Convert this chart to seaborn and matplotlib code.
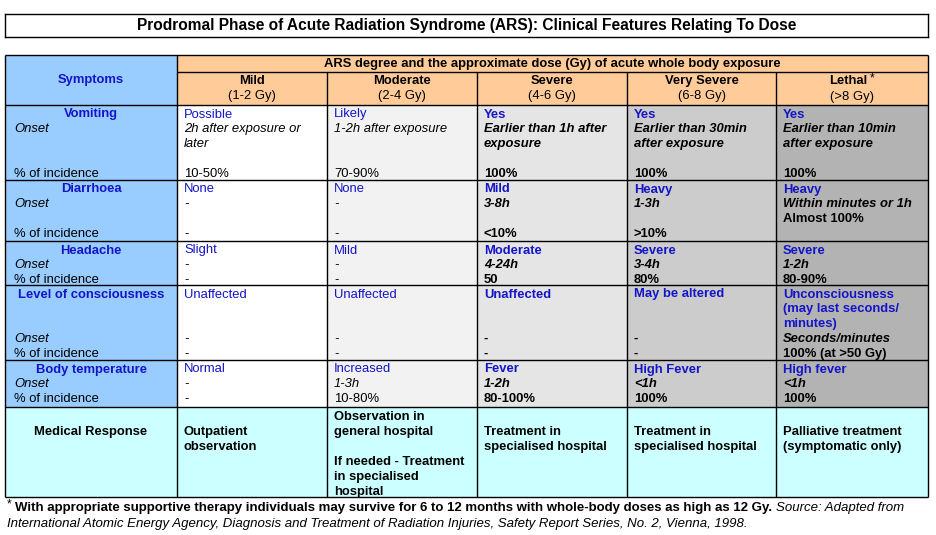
import numpy as np
import matplotlib
matplotlib.use("Agg")
import matplotlib.pyplot as plt
from matplotlib.colors import ListedColormap
from matplotlib.transforms import IdentityTransform
import seaborn as sns

# ---- table content ----
title = "Prodromal Phase of Acute Radiation Syndrome (ARS): Clinical Features Relating To Dose"
span_header = "ARS degree and the approximate dose (Gy) of acute whole body exposure"
degrees = ["Mild", "Moderate", "Severe", "Very Severe", "Lethal"]
doses = ["(1-2 Gy)", "(2-4 Gy)", "(4-6 Gy)", "(6-8 Gy)", "(>8 Gy)"]
symptoms = ["Vomiting", "Diarrhoea", "Headache", "Level of consciousness", "Body temperature"]

vomiting = [
    ["Possible", "2h after exposure or", "later", "", "10-50%"],
    ["Likely", "1-2h after exposure", "", "", "70-90%"],
    ["Yes", "Earlier than 1h after", "exposure", "", "100%"],
    ["Yes", "Earlier than 30min", "after exposure", "", "100%"],
    ["Yes", "Earlier than 10min", "after exposure", "", "100%"],
]
diarrhoea = [
    ["None", "-", "", "-"],
    ["None", "-", "", "-"],
    ["Mild", "3-8h", "", "<10%"],
    ["Heavy", "1-3h", "", ">10%"],
    ["Heavy", "Within minutes or 1h", "Almost 100%", ""],
]
headache = [
    ["Slight", "-", "-"],
    ["Mild", "-", "-"],
    ["Moderate", "4-24h", "50"],
    ["Severe", "3-4h", "80%"],
    ["Severe", "1-2h", "80-90%"],
]
consciousness = [
    ["Unaffected", "", "", "-", "-"],
    ["Unaffected", "", "", "-", "-"],
    ["Unaffected", "", "", "-", "-"],
    ["May be altered", "", "", "-", "-"],
    ["Unconsciousness", "(may last seconds/", "minutes)", "Seconds/minutes", "100% (at >50 Gy)"],
]
body_temperature = [
    ["Normal", "-", "-"],
    ["Increased", "1-3h", "10-80%"],
    ["Fever", "1-2h", "80-100%"],
    ["High Fever", "<1h", "100%"],
    ["High fever", "<1h", "100%"],
]
medical_response = [
    ["", "Outpatient", "observation"],
    ["Observation in", "general hospital", "", "If needed - Treatment", "in specialised", "hospital"],
    ["", "Treatment in", "specialised hospital"],
    ["", "Treatment in", "specialised hospital"],
    ["", "Palliative treatment", "(symptomatic only)"],
]
footnote = ("With appropriate supportive therapy individuals may survive for 6 to 12 months "
            "with whole-body doses as high as 12 Gy.")
source_1 = "Source: Adapted from"
source_2 = ("International Atomic Energy Agency, Diagnosis and Treatment of Radiation Injuries, "
            "Safety Report Series, No. 2, Vienna, 1998.")

body_rows = [vomiting, diarrhoea, headache, consciousness, body_temperature]
# what each text line of a row holds, and where "Onset" / "% of incidence" sit
line_kinds = [
    ["label", "onset", "onset", "onset", "inc"],
    ["label", "onset", "inc", "inc"],
    ["label", "onset", "inc"],
    ["label", "label", "label", "onset", "inc"],
    ["label", "onset", "inc"],
]
label_lines = [(1, 4), (1, 3), (1, 2), (3, 4), (1, 2)]

# ---- style / layout ----
sns.set_theme(style="white")
plt.rcParams["font.family"] = ["Liberation Sans", "DejaVu Sans"]

W, H = 936, 535
fig = plt.figure(figsize=(W / 100, H / 100), dpi=100)
fig.patch.set_facecolor("white")
renderer = fig.canvas.get_renderer()

BLUE = "#1414c8"
fills = ["#ffffff", "#f2f2f2", "#e5e5e5", "#cccccc", "#b3b3b3", "#99ccff", "#ffcc99", "#ccffff"]
X0, Y0 = 5, 55
col_w = [172, 150, 150, 150, 149, 152]
row_h = [17, 33, 75, 61, 44, 75, 47, 90]
col_x = np.concatenate([[0], np.cumsum(col_w)])
row_y = np.concatenate([[0], np.cumsum(row_h)])
PITCH = 14.9
FS = 9.35


def put(x, y, s, ha="left", size=FS, **kw):
    # x, y in image pixels, y measured from the top, y is the baseline
    return fig.text(x, H - y, s, ha=ha, va="baseline", fontsize=size,
                    color=kw.pop("color", "black"), transform=IdentityTransform(), **kw)


def put_runs(x, y, runs, ha="left"):
    # runs: (text, gap before, raise, style)
    texts = [put(0, y, s, **kw) for s, gap, dy, kw in runs]
    widths = [t.get_window_extent(renderer).width for t in texts]
    total = sum(widths) + sum(r[1] for r in runs)
    cur = x - total / 2 if ha == "center" else x
    for t, w, (s, gap, dy, kw) in zip(texts, widths, runs):
        cur += gap
        t.set_position((cur, H - y + dy))
        cur += w


# ---- cell backgrounds via heatmap ----
shade = np.array([[5, 6, 6, 6, 6, 6]] * 2 + [[5, 0, 1, 2, 3, 4]] * 5 + [[7] * 6])
grid = np.repeat(np.repeat(shade, row_h, axis=0), col_w, axis=1)
ax = fig.add_axes([X0 / W, 1 - (Y0 + row_y[-1]) / H, col_x[-1] / W, row_y[-1] / H])
sns.heatmap(grid, ax=ax, cmap=ListedColormap(fills), vmin=-0.5, vmax=len(fills) - 0.5,
            cbar=False, xticklabels=False, yticklabels=False)

lk = dict(colors="black", lw=1, clip_on=False)
ax.hlines(row_y[[0, 2, 3, 4, 5, 6, 7, 8]], 0, col_x[-1], **lk)
ax.hlines(row_y[1], col_x[1], col_x[-1], **lk)
ax.vlines(col_x[[0, 1, 6]], 0, row_y[-1], **lk)
ax.vlines(col_x[2:6], row_y[1], row_y[-1], **lk)

# ---- title box ----
tax = fig.add_axes([5 / W, 1 - 37 / H, 923 / W, 23 / H])
tax.set_xticks([])
tax.set_yticks([])
for sp in tax.spines.values():
    sp.set_color("black")
    sp.set_linewidth(1)
put(467, 30, title, ha="center", size=11.2, weight="bold")

# ---- header ----
put(X0 + (col_x[1] + col_x[-1]) / 2, Y0 + 12.5, span_header, ha="center", weight="bold")
put(X0 + col_x[1] / 2, Y0 + 28.5, "Symptoms", ha="center", weight="bold", color=BLUE)
for i, (deg, dose) in enumerate(zip(degrees, doses)):
    cx = X0 + (col_x[i + 1] + col_x[i + 2]) / 2
    top = Y0 + row_y[1]
    if deg == "Lethal":
        put_runs(cx, top + 12.5, [(deg, 0, 0, dict(weight="bold")), ("*", 3, 3, dict(size=8.5))],
                 ha="center")
        put(cx, top + 28, dose, ha="center")
    else:
        put(cx, top + 12, deg, ha="center", weight="bold")
        put(cx, top + 26.5, dose, ha="center")

# ---- body rows ----
for r, (name, cells) in enumerate(zip(symptoms, body_rows)):
    base = Y0 + row_y[r + 2] + 12.5
    on_i, inc_i = label_lines[r]
    put(X0 + col_x[1] / 2, base, name, ha="center", weight="bold", color=BLUE)
    put(X0 + 9, base + PITCH * on_i, "Onset", style="italic")
    put(X0 + 9, base + PITCH * inc_i, "% of incidence")
    for c, lines in enumerate(cells):
        strong = "bold" if c >= 2 else "normal"
        for k, s in enumerate(lines):
            if not s:
                continue
            kind = line_kinds[r][k]
            st = dict(weight=strong)
            if kind == "label":
                st["color"] = BLUE
            elif kind == "onset":
                st["style"] = "italic"
            put(X0 + col_x[c + 1] + 7, base + PITCH * k, s, **st)

base = Y0 + row_y[7] + 13
put(X0 + col_x[1] / 2, base + PITCH, "Medical Response", ha="center", weight="bold")
for c, lines in enumerate(medical_response):
    for k, s in enumerate(lines):
        if s:
            put(X0 + col_x[c + 1] + 7, base + PITCH * k, s, weight="bold")

# ---- footnote ----
put_runs(7, 511.5, [("*", 0, 4, dict(size=8.5)),
                    (footnote, 3, 0, dict(weight="bold", size=9.5)),
                    (source_1, 4, 0, dict(style="italic", size=9.5))])
put(7, 526.5, source_2, style="italic", size=9.55)

fig.savefig("out.png", dpi=100)
